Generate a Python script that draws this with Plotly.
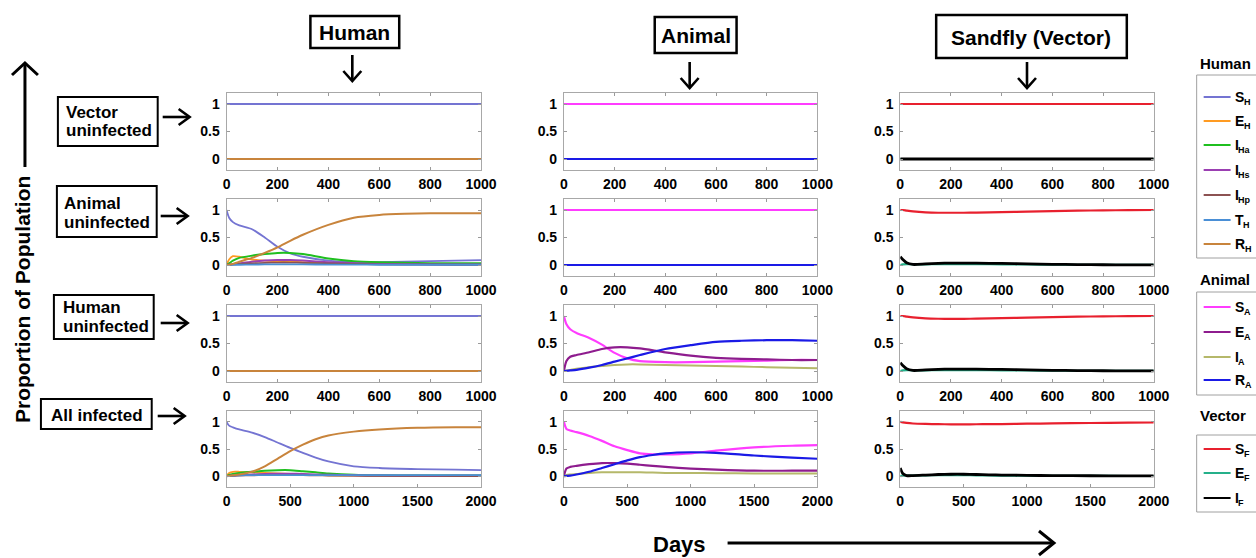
import math
import plotly.graph_objects as go

W, H = 1256, 558
# the photographed page comes out slightly compressed horizontally; compensate
SX, OX = 0.986, 3.0


def px(x):
    return ((x - OX) / SX) / W


def py(y):
    return 1 - y / H


# ---------------- DATA ----------------
T1 = [0, 10, 25, 50, 100, 150, 200, 250, 300, 400, 500, 600, 700, 800, 900, 1000]
T2 = [0, 20, 50, 100, 200, 300, 400, 500, 600, 700, 800, 1000, 1200, 1500, 1800, 2000]
FLAT_T1 = [0, 1000]
FLAT_ONE = [1, 1]
FLAT_ZERO = [0, 0]

X_TICKS_1000 = [0, 200, 400, 600, 800, 1000]
X_TICKS_2000 = [0, 500, 1000, 1500, 2000]
Y_TICKS = [0, 0.5, 1]
Y_TICK_TEXT = ["0", "0.5", "1"]

# Row 2 (Animal uninfected) - Human panel
r2_S_H = [1.0, 0.86, 0.78, 0.72, 0.65, 0.5, 0.33, 0.21, 0.15, 0.08, 0.05, 0.05, 0.06, 0.07, 0.08, 0.09]
r2_E_H = [0, 0.1, 0.16, 0.15, 0.1, 0.08, 0.07, 0.06, 0.05, 0.03, 0.02, 0.015, 0.01, 0.01, 0.01, 0.01]
r2_I_Ha = [0, 0.03, 0.08, 0.13, 0.17, 0.2, 0.22, 0.22, 0.2, 0.12, 0.07, 0.05, 0.04, 0.03, 0.03, 0.03]
r2_I_Hs = [0, 0.005, 0.015, 0.03, 0.06, 0.08, 0.09, 0.09, 0.08, 0.05, 0.03, 0.02, 0.015, 0.01, 0.01, 0.01]
r2_I_Hp = [0, 0.005, 0.01, 0.02, 0.03, 0.04, 0.045, 0.045, 0.04, 0.03, 0.02, 0.01, 0.01, 0.01, 0.005, 0.005]
r2_T_H = [0, 0, 0.002, 0.005, 0.008, 0.01, 0.01, 0.01, 0.01, 0.008, 0.006, 0.005, 0.005, 0.005, 0.005, 0.005]
r2_R_H = [0, 0.005, 0.02, 0.06, 0.13, 0.22, 0.32, 0.44, 0.55, 0.73, 0.86, 0.91, 0.93, 0.94, 0.94, 0.94]

# Row 2 - Sandfly panel
r2_S_F = [1.0, 1.0, 0.99, 0.975, 0.957, 0.95, 0.95, 0.95, 0.952, 0.96, 0.97, 0.98, 0.988, 0.993, 0.997, 1.0]
r2_E_F = [0, 0.01, 0.015, 0.012, 0.012, 0.015, 0.017, 0.017, 0.016, 0.013, 0.01, 0.006, 0.004, 0.003, 0.002, 0.001]
r2_I_F = [0.15, 0.1, 0.04, 0.01, 0.02, 0.03, 0.035, 0.035, 0.033, 0.028, 0.02, 0.012, 0.008, 0.005, 0.003, 0.002]

# Row 3 (Human uninfected) - Animal panel
r3_S_A = [1.0, 0.85, 0.76, 0.69, 0.6, 0.48, 0.33, 0.23, 0.18, 0.16, 0.16, 0.17, 0.18, 0.19, 0.2, 0.2]
r3_E_A = [0, 0.18, 0.26, 0.29, 0.34, 0.4, 0.43, 0.43, 0.41, 0.34, 0.28, 0.24, 0.22, 0.21, 0.2, 0.2]
r3_I_A = [0, 0.01, 0.02, 0.04, 0.07, 0.09, 0.11, 0.12, 0.12, 0.11, 0.1, 0.09, 0.08, 0.07, 0.06, 0.05]
r3_R_A = [0, 0.005, 0.01, 0.02, 0.06, 0.11, 0.17, 0.23, 0.29, 0.4, 0.47, 0.53, 0.55, 0.56, 0.56, 0.55]

# Row 3 - Sandfly panel
r3_S_F = [1.0, 1.0, 0.99, 0.975, 0.957, 0.95, 0.948, 0.948, 0.952, 0.96, 0.97, 0.98, 0.988, 0.993, 0.997, 1.0]
r3_E_F = [0, 0.01, 0.015, 0.012, 0.012, 0.015, 0.017, 0.017, 0.016, 0.013, 0.01, 0.006, 0.004, 0.003, 0.002, 0.001]
r3_I_F = [0.15, 0.1, 0.04, 0.01, 0.02, 0.03, 0.035, 0.035, 0.033, 0.028, 0.02, 0.012, 0.008, 0.005, 0.003, 0.002]

# Row 4 (All infected) - Human panel
r4_S_H = [1.0, 0.93, 0.9, 0.86, 0.8, 0.72, 0.62, 0.52, 0.43, 0.34, 0.27, 0.18, 0.15, 0.13, 0.12, 0.11]
r4_E_H = [0, 0.06, 0.08, 0.08, 0.07, 0.06, 0.05, 0.04, 0.03, 0.02, 0.015, 0.01, 0.01, 0.01, 0.01, 0.01]
r4_I_Ha = [0, 0.02, 0.04, 0.06, 0.08, 0.1, 0.11, 0.11, 0.09, 0.07, 0.05, 0.025, 0.015, 0.01, 0.01, 0.01]
r4_I_Hs = [0, 0.005, 0.01, 0.02, 0.03, 0.04, 0.045, 0.045, 0.04, 0.03, 0.025, 0.015, 0.01, 0.005, 0.005, 0.005]
r4_I_Hp = [0, 0.002, 0.005, 0.01, 0.015, 0.02, 0.02, 0.02, 0.018, 0.015, 0.012, 0.008, 0.005, 0.004, 0.003, 0.003]
r4_T_H = [0, 0.005, 0.01, 0.015, 0.02, 0.02, 0.02, 0.02, 0.02, 0.02, 0.02, 0.02, 0.02, 0.02, 0.02, 0.02]
r4_R_H = [0, 0.005, 0.015, 0.03, 0.08, 0.18, 0.32, 0.46, 0.58, 0.68, 0.75, 0.82, 0.86, 0.89, 0.9, 0.9]

# Row 4 - Animal panel
r4_S_A = [1.0, 0.87, 0.84, 0.81, 0.74, 0.65, 0.55, 0.48, 0.42, 0.4, 0.4, 0.42, 0.47, 0.53, 0.56, 0.57]
r4_E_A = [0, 0.14, 0.17, 0.19, 0.22, 0.24, 0.24, 0.23, 0.21, 0.19, 0.17, 0.14, 0.12, 0.1, 0.1, 0.1]
r4_I_A = [0, 0.02, 0.03, 0.04, 0.06, 0.07, 0.07, 0.07, 0.07, 0.065, 0.06, 0.06, 0.055, 0.05, 0.05, 0.05]
r4_R_A = [0, 0.005, 0.01, 0.03, 0.08, 0.15, 0.22, 0.29, 0.35, 0.39, 0.42, 0.44, 0.43, 0.38, 0.34, 0.32]

# Row 4 - Sandfly panel
r4_S_F = [1.0, 0.99, 0.98, 0.97, 0.962, 0.957, 0.955, 0.955, 0.956, 0.958, 0.96, 0.966, 0.972, 0.979, 0.985, 0.988]
r4_E_F = [0, 0.01, 0.012, 0.012, 0.015, 0.018, 0.018, 0.017, 0.015, 0.012, 0.01, 0.007, 0.005, 0.004, 0.003, 0.003]
r4_I_F = [0.15, 0.05, 0.01, 0.01, 0.02, 0.03, 0.035, 0.035, 0.03, 0.025, 0.02, 0.015, 0.01, 0.007, 0.005, 0.004]

HUMAN_NAMES = ["S_H", "E_H", "I_Ha", "I_Hs", "I_Hp", "T_H", "R_H"]
ANIMAL_NAMES = ["S_A", "E_A", "I_A", "R_A"]
VECTOR_NAMES = ["S_F", "E_F", "I_F"]

COLUMN_TITLES = ["Human", "Animal", "Sandfly (Vector)"]
ROW_TITLES = [["Vector", "uninfected"], ["Animal", "uninfected"], ["Human", "uninfected"], ["All infected"]]

# ---------------- STYLE ----------------
COLORS = {
    "S_H": "#7474d2", "E_H": "#ff9b22", "I_Ha": "#1fbf1f", "I_Hs": "#9b3fb2",
    "I_Hp": "#8c5252", "T_H": "#4a8fd6", "R_H": "#c8843c",
    "S_A": "#ff3cff", "E_A": "#8e1c8e", "I_A": "#b5b86a", "R_A": "#1a1ae6",
    "S_F": "#e8202e", "E_F": "#25b08a", "I_F": "#000000",
}
WIDTHS = {
    "S_H": 1.8, "E_H": 1.8, "I_Ha": 2, "I_Hs": 2, "I_Hp": 1.8, "T_H": 1.8, "R_H": 2,
    "S_A": 2.2, "E_A": 2.2, "I_A": 2, "R_A": 2.2,
    "S_F": 2.2, "E_F": 2.2, "I_F": 2.8,
}
FONT = "Liberation Sans, Arial, sans-serif"
# advance widths (em) of Liberation Sans Bold capitals used in legend labels
CAP_EM = {"S": 0.667, "E": 0.667, "I": 0.278, "T": 0.611, "R": 0.722}

flat_h = {n: (FLAT_ONE if n == "S_H" else FLAT_ZERO) for n in HUMAN_NAMES}
flat_a = {n: (FLAT_ONE if n == "S_A" else FLAT_ZERO) for n in ANIMAL_NAMES}
flat_f = {n: (FLAT_ONE if n == "S_F" else FLAT_ZERO) for n in VECTOR_NAMES}

panels = {
    (0, 0): (FLAT_T1, flat_h),
    (0, 1): (FLAT_T1, flat_a),
    (0, 2): (FLAT_T1, flat_f),
    (1, 0): (T1, dict(zip(HUMAN_NAMES, [r2_S_H, r2_E_H, r2_I_Ha, r2_I_Hs, r2_I_Hp, r2_T_H, r2_R_H]))),
    (1, 1): (FLAT_T1, flat_a),
    (1, 2): (T1, dict(zip(VECTOR_NAMES, [r2_S_F, r2_E_F, r2_I_F]))),
    (2, 0): (FLAT_T1, flat_h),
    (2, 1): (T1, dict(zip(ANIMAL_NAMES, [r3_S_A, r3_E_A, r3_I_A, r3_R_A]))),
    (2, 2): (T1, dict(zip(VECTOR_NAMES, [r3_S_F, r3_E_F, r3_I_F]))),
    (3, 0): (T2, dict(zip(HUMAN_NAMES, [r4_S_H, r4_E_H, r4_I_Ha, r4_I_Hs, r4_I_Hp, r4_T_H, r4_R_H]))),
    (3, 1): (T2, dict(zip(ANIMAL_NAMES, [r4_S_A, r4_E_A, r4_I_A, r4_R_A]))),
    (3, 2): (T2, dict(zip(VECTOR_NAMES, [r4_S_F, r4_E_F, r4_I_F]))),
}

X_DOM = [(226, 481), (564, 818), (901, 1155)]
Y_DOM = [(93, 170), (199, 276), (305, 382), (411, 487)]

fig = go.Figure()
layout = dict(
    width=W, height=H, autosize=False, margin=dict(l=0, r=0, t=0, b=0, pad=0),
    paper_bgcolor="white", plot_bgcolor="white", showlegend=False,
    font=dict(family=FONT, color="black", size=14),
)

tickfont = dict(family=FONT, size=14, color="black", weight="bold")
for r in range(4):
    for c in range(3):
        i = r * 3 + c + 1
        sfx = "" if i == 1 else str(i)
        xmax = 1000 if r < 3 else 2000
        xt = X_TICKS_1000 if r < 3 else X_TICKS_2000
        common = dict(ticks="inside", ticklen=3, tickcolor="#9a9a9a", showline=True,
                      linecolor="#a8a8a8", linewidth=1, mirror="ticks", showgrid=False,
                      zeroline=False, tickfont=tickfont)
        layout["xaxis" + sfx] = dict(domain=[px(X_DOM[c][0]), px(X_DOM[c][1])], anchor="y" + sfx,
                                     range=[0, xmax], tickvals=xt, ticklabelstandoff=1, **common)
        layout["yaxis" + sfx] = dict(domain=[py(Y_DOM[r][1]), py(Y_DOM[r][0])], anchor="x" + sfx,
                                     range=[-0.2, 1.2], tickvals=Y_TICKS, ticktext=Y_TICK_TEXT,
                                     ticklabelstandoff=3, **common)
        x, series = panels[(r, c)]
        for name, vals in series.items():
            fig.add_trace(go.Scatter(
                x=x, y=vals, mode="lines", name=name,
                line=dict(color=COLORS[name], width=WIDTHS[name], shape="spline", smoothing=0.7),
                xaxis="x" + sfx, yaxis="y" + sfx, showlegend=False, hoverinfo="skip"))

shapes = []
annotations = []


def rect(x0, y0, x1, y1, color="black", width=2):
    shapes.append(dict(type="rect", xref="paper", yref="paper", x0=px(x0), x1=px(x1),
                       y0=py(y1), y1=py(y0), line=dict(color=color, width=width),
                       fillcolor="rgba(0,0,0,0)"))


def arrow(x0, y0, x1, y1, back=11, half=8, width=2.6):
    L = math.hypot(x1 - x0, y1 - y0)
    ux, uy = (x1 - x0) / L, (y1 - y0) / L
    shapes.append(dict(type="line", xref="paper", yref="paper", x0=px(x0), y0=py(y0),
                       x1=px(x1 - ux * 1), y1=py(y1 - uy * 1), line=dict(color="black", width=width)))
    ax, ay = x1 - ux * back - uy * half, y1 - uy * back + ux * half
    bx, by = x1 - ux * back + uy * half, y1 - uy * back - ux * half
    path = f"M {px(ax)},{py(ay)} L {px(x1)},{py(y1)} L {px(bx)},{py(by)}"
    shapes.append(dict(type="path", xref="paper", yref="paper", path=path,
                       line=dict(color="black", width=width)))


def text(x, y, s, size=17, xanchor="center", angle=0, weight="bold"):
    annotations.append(dict(x=px(x), y=py(y), xref="paper", yref="paper", text=s, showarrow=False,
                            xanchor=xanchor, yanchor="middle", textangle=angle,
                            font=dict(family=FONT, size=size, color="black", weight=weight)))


# column headers
HEADER_BOX = [(310, 16, 399, 48), (655, 17, 737, 53), (937, 15, 1128, 58)]
HEADER_ARROW = [(352, 55, 352, 81), (690, 62, 690, 88), (1028, 62, 1028, 88)]
for title, (x0, y0, x1, y1), (ax0, ay0, ax1, ay1) in zip(COLUMN_TITLES, HEADER_BOX, HEADER_ARROW):
    rect(x0, y0, x1, y1, width=2.5)
    text((x0 + x1) / 2, (y0 + y1) / 2 + 1, title, size=21)
    arrow(ax0, ay0, ax1, ay1, back=10, half=9)

# row labels
ROW_BOX = [(57, 97, 157, 146), (56, 186, 156, 237), (53, 295, 153, 339), (40, 399, 151, 429)]
ROW_TEXT_X = [63, 61, 60, 48]
ROW_TEXT_Y = [[112, 131], [203, 222], [307, 326], [415]]
ROW_ARROW = [(162, 117, 189, 117), (160, 216, 187, 216), (160, 323, 187, 323), (157, 416, 184, 416)]
for lines, box, tx, tys, arr in zip(ROW_TITLES, ROW_BOX, ROW_TEXT_X, ROW_TEXT_Y, ROW_ARROW):
    rect(*box, width=2)
    for ln, ty in zip(lines, tys):
        text(tx, ty, ln, size=17, xanchor="left")
    arrow(*arr, back=11, half=8)

# y-axis label with up arrow
text(21, 299, "Proportion of Population", size=21, angle=-90)
arrow(24, 167, 24, 63, back=12, half=13, width=3)

# x-axis label with arrow
text(680, 544, "Days", size=22)
arrow(728, 543, 1055, 543, back=15, half=12, width=3)

# legends (drawn manually: sample line, capital letter and subscript)
LEG_X0 = 1198
LEGENDS = [
    ("Human", 64, (75, 258), HUMAN_NAMES, [97, 121, 145, 170, 195, 220, 244]),
    ("Animal", 279, (292, 395), ANIMAL_NAMES, [307, 332, 357, 380]),
    ("Vector", 415, (435, 512), VECTOR_NAMES, [449, 473, 498]),
]
for title, ty, (b0, b1), names, ys in LEGENDS:
    text(LEG_X0 + 1, ty, title, size=15, xanchor="left")
    rect(LEG_X0, b0, 1290, b1, color="#a0a0a0", width=1)
    for n, yy in zip(names, ys):
        shapes.append(dict(type="line", xref="paper", yref="paper", x0=px(1205), x1=px(1232),
                           y0=py(yy), y1=py(yy), line=dict(color=COLORS[n], width=2)))
        cap, sub = n.split("_")
        if n.endswith("F"):
            sub = "F"
        text(1234, yy, cap, size=14, xanchor="left")
        text(1234 + CAP_EM[cap] * 14 * SX, yy + 5, sub, size=9, xanchor="left")

layout["shapes"] = shapes
layout["annotations"] = annotations
fig.update_layout(**layout)

POST = ("document.documentElement.style.overflow='hidden';"
        "document.body.style.overflow='hidden';"
        "document.body.style.margin='0';")
fig.write_html("out.html", post_script=POST, config={"responsive": False, "displayModeBar": False})
